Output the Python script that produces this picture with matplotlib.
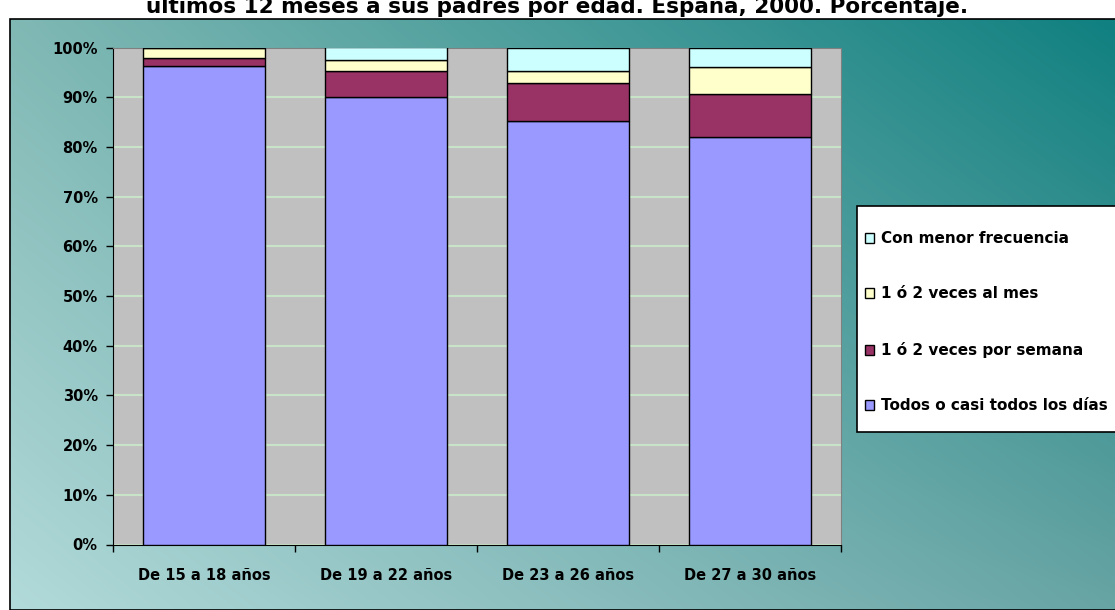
import numpy as np
import matplotlib.pyplot as plt
from matplotlib.patches import Rectangle
from matplotlib.ticker import FuncFormatter

plt.rcParams['font.family'] = ['DejaVu Sans']
plt.rcParams['font.weight'] = 'bold'

# frecuencia de contacto con los padres, % por grupo de edad
edades = ["De 15 a 18 años", "De 19 a 22 años", "De 23 a 26 años", "De 27 a 30 años"]
todos_dias = [96.3, 90.1, 85.2, 81.9]
por_semana = [1.6, 5.2, 7.6, 8.7]
al_mes = [2.1, 2.2, 2.5, 5.5]
menor_frec = [0.0, 2.5, 4.7, 3.9]

series = [
    ("Todos o casi todos los días", todos_dias, "#9999FF"),
    ("1 ó 2 veces por semana", por_semana, "#993366"),
    ("1 ó 2 veces al mes", al_mes, "#FFFFCC"),
    ("Con menor frecuencia", menor_frec, "#CCFFFF"),
]

W, H = 1115, 610
fig = plt.figure(figsize=(W / 100, H / 100), dpi=100)
fig.patch.set_facecolor("white")

# fondo degradado del área del gráfico (interpolación entre las cuatro esquinas)
box_l, box_t = 10, 19
bg = fig.add_axes([box_l / W, 0, 1 - box_l / W, (H - box_t) / H])
u = np.linspace(0, 1, 400)[None, :, None]
v = np.linspace(1, 0, 300)[:, None, None]
tl = np.array([128, 184, 180]) / 255
tr = np.array([16, 128, 128]) / 255
bl = np.array([178, 218, 218]) / 255
br = np.array([104, 164, 164]) / 255
img = (tl * (1 - u) * v + tr * u * v + bl * (1 - u) * (1 - v) + br * u * (1 - v))
bg.imshow(img, aspect="auto", extent=(0, 1, 0, 1))
bg.set_xlim(0, 1)
bg.set_ylim(0, 1)
bg.axis("off")
fig.add_artist(Rectangle((box_l / W, 0), 1, (H - box_t) / H, transform=fig.transFigure,
                         fill=False, edgecolor="black", linewidth=1.2))

fig.text(0.5, 1 - 13 / H,
         "últimos 12 meses a sus padres por edad. España, 2000. Porcentaje.",
         ha="center", va="baseline", fontsize=15.5, fontweight="bold")

ax = fig.add_axes([113 / W, 65.5 / H, (841 - 113) / W, (544.5 - 47.5) / H])
ax.set_facecolor("#C0C0C0")
x = np.arange(len(edades))
bottom = np.zeros(len(edades))
handles = []
for name, vals, color in series:
    b = ax.bar(x, vals, width=0.667, bottom=bottom, color=color,
               edgecolor="black", linewidth=1.0, label=name, zorder=3)
    bottom += np.array(vals)
    handles.append(b)

ax.set_xlim(-0.5, len(edades) - 0.5)
ax.set_ylim(0, 100)
ax.set_yticks(np.arange(0, 101, 10))
ax.yaxis.set_major_formatter(FuncFormatter(lambda val, pos: f"{val:.0f}%"))
ax.yaxis.grid(True, color="#C8E4C8", linewidth=1.5, zorder=1)
ax.set_xticks(x)
ax.set_xticklabels(edades)
ax.set_xticks(np.arange(-0.5, len(edades)), minor=True)
ax.tick_params(axis="x", which="major", length=0, pad=17, labelsize=10.5)
ax.tick_params(axis="x", which="minor", length=5, width=1, direction="out")
ax.tick_params(axis="y", length=5, width=1, direction="out", pad=6, labelsize=10.5)
for lab in ax.get_xticklabels() + ax.get_yticklabels():
    lab.set_fontweight("bold")
ax.spines["left"].set_color("black")
ax.spines["bottom"].set_color("black")
ax.spines["top"].set_color("#808080")
ax.spines["right"].set_color("#808080")

# recuadro de la leyenda
fig.add_artist(Rectangle((857 / W, 1 - 432 / H), 300 / W, 226 / H, transform=fig.transFigure,
                         facecolor="white", edgecolor="black", linewidth=1.2, zorder=4))
leg = fig.legend(handles[::-1], [s[0] for s in series][::-1],
                 loc="upper left", bbox_to_anchor=(865 / W, 1 - 231 / H),
                 bbox_transform=fig.transFigure, frameon=False,
                 prop={"weight": "bold", "size": 11},
                 handlelength=0.62, handleheight=0.62, handletextpad=0.4,
                 labelspacing=2.65, borderpad=0, borderaxespad=0)
leg.set_zorder(5)

fig.savefig("out.png", dpi=100, facecolor=fig.get_facecolor())
